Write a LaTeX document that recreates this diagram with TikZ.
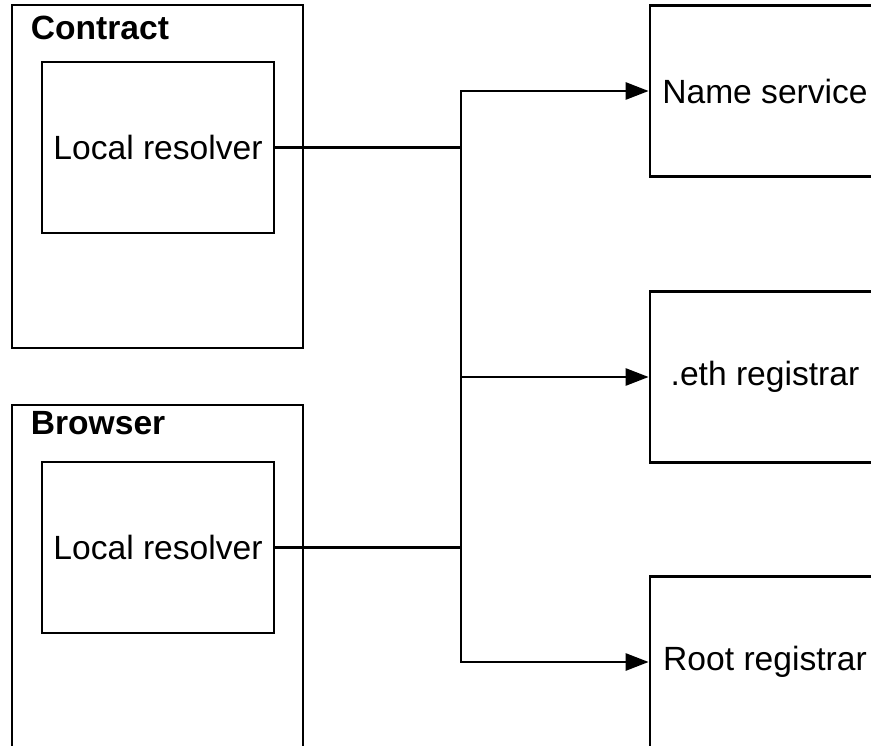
\documentclass[tikz,border=0pt]{standalone}
\usepackage{fontspec}
\setmainfont{Liberation Sans}
\usetikzlibrary{arrows.meta}
\usetikzlibrary{calc}
\def\LineW{2.7pt}
\def\TrunkX{461}
\def\FontSz{\fontsize{33.6pt}{40pt}\selectfont}

\begin{document}
\begin{tikzpicture}[x=1pt,y=-1pt,
  outer/.style={draw, line width=\LineW, minimum width=291pt, minimum height=343pt},
  resolver/.style={draw, line width=\LineW, minimum width=232pt, minimum height=171pt, inner sep=0pt, font=\FontSz},
  service/.style={draw, line width=\LineW, minimum width=230pt, minimum height=171pt, inner sep=0pt, font=\FontSz},
  title/.style={anchor=base west, inner sep=0pt, font=\FontSz\bfseries},
  flow/.style={line width=\LineW, -{Triangle[length=23pt,width=17pt]}},
  link/.style={line width=\LineW}]
\useasboundingbox (0,0) rectangle (871,746);
\clip (0,0) rectangle (871,746);

\node[outer] (contract) at (157.5,176.5) {};
\node[outer] (browser) at (157.5,576.5) {};
\node[title] (contracttitle) at ($(contract.north west)+(20,36)$) {Contract};
\node[title] (browsertitle) at ($(browser.north west)+(20,31)$) {Browser};

\node[resolver] (res1) at (158,147.5) {Local resolver};
\node[resolver] (res2) at (158,547.5) {Local resolver};

\node[service] (ns) at (765,91) {Name service};
\node[service] (eth) at (765,377) {.eth registrar};
\node[service] (root) at (765,662) {Root registrar};

\coordinate (trunk) at (\TrunkX,0);

\draw[link] (res1.east) -- (res1.east -| trunk);
\draw[link] (res2.east) -- (res2.east -| trunk);
\draw[link] (res1.east -| trunk) -- (res2.east -| trunk);
\draw[flow] (res1.east -| trunk) |- (ns.west);
\draw[flow] (eth.west -| trunk) -- (eth.west);
\draw[flow] (res2.east -| trunk) |- (root.west);
\end{tikzpicture}
\end{document}
